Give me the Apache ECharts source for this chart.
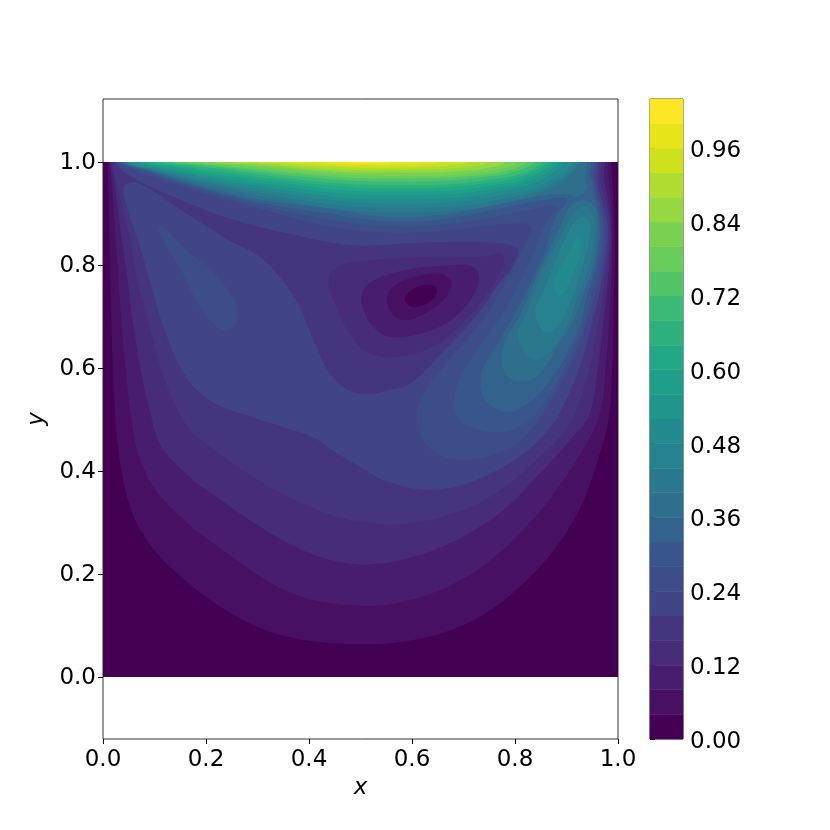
<!DOCTYPE html>
<html>
<head>
<meta charset="utf-8">
<title>cavity speed contours</title>
<style>
  html, body { margin: 0; padding: 0; background: #fff; }
  #chart { width: 830px; height: 830px; }
</style>
<script src="https://cdn.jsdelivr.net/npm/echarts@6/dist/echarts.min.js"></script>
</head>
<body>
<div id="chart"></div>
<script>
const yTicks = [0, 0.2, 0.4, 0.6, 0.8, 1]
const barTicks = [0, 0.12, 0.24, 0.36, 0.48, 0.6, 0.72, 0.84, 0.96]
const levels = [0, 0.04, 0.08, 0.12, 0.16, 0.2, 0.24, 0.28, 0.32, 0.36, 0.4, 0.44, 0.48, 0.52, 0.56, 0.6, 0.64, 0.68, 0.72, 0.76, 0.8, 0.84, 0.88, 0.92, 0.96, 1, 1.04]
const bandColors = ['#440154', '#471063', '#481d6f', '#472c7a', '#453581', '#414487', '#3d4d8a', '#39568c', '#33638d', '#2e6f8e', '#2a788e', '#26828e', '#238a8d', '#1f958b', '#1f9e89', '#22a884', '#2cb17e', '#3bbb75', '#52c569', '#68cd5b', '#7ad151', '#95d840', '#aedc30', '#cde11d', '#e7e419', '#fde725']

// square that holds the flow, lowest band
const cavity = [[0, 0], [1, 0], [1, 1], [0, 1]]

// contour lines, [x, y]
const c004 = [[0.009, 1], [0.012, 0.884], [0.016, 0.69], [0.025, 0.489], [0.033, 0.418], [0.043, 0.366], [0.056, 0.321], [0.075, 0.282], [0.114, 0.23], [0.179, 0.172], [0.243, 0.127], [0.308, 0.094], [0.373, 0.075], [0.438, 0.066], [0.509, 0.064], [0.554, 0.065], [0.619, 0.075], [0.683, 0.094], [0.748, 0.127], [0.813, 0.179], [0.878, 0.25], [0.929, 0.334], [0.962, 0.425], [0.983, 0.509], [0.989, 0.6], [0.992, 0.737], [0.994, 0.85], [0.99, 0.95], [0.987, 1]]
const c008 = [[0.013, 1], [0.018, 0.95], [0.024, 0.86], [0.031, 0.755], [0.042, 0.62], [0.054, 0.509], [0.065, 0.444], [0.082, 0.399], [0.104, 0.36], [0.14, 0.321], [0.192, 0.276], [0.256, 0.23], [0.321, 0.185], [0.386, 0.156], [0.451, 0.142], [0.509, 0.138], [0.554, 0.141], [0.619, 0.156], [0.683, 0.182], [0.748, 0.224], [0.813, 0.282], [0.878, 0.36], [0.929, 0.437], [0.964, 0.509], [0.976, 0.6], [0.985, 0.737], [0.989, 0.85], [0.986, 0.93], [0.981, 0.97], [0.981, 1]]
const c012 = [[0.016, 1], [0.024, 0.95], [0.035, 0.86], [0.05, 0.755], [0.058, 0.69], [0.075, 0.586], [0.093, 0.509], [0.103, 0.47], [0.12, 0.437], [0.179, 0.379], [0.224, 0.347], [0.289, 0.302], [0.354, 0.263], [0.418, 0.234], [0.47, 0.222], [0.522, 0.219], [0.586, 0.229], [0.651, 0.25], [0.716, 0.282], [0.781, 0.327], [0.845, 0.392], [0.904, 0.457], [0.944, 0.509], [0.961, 0.6], [0.977, 0.737], [0.984, 0.81], [0.986, 0.87], [0.98, 0.93], [0.974, 0.96], [0.973, 0.98], [0.975, 1]]
const c016 = [[0.019, 1], [0.029, 0.949], [0.052, 0.852], [0.07, 0.755], [0.088, 0.69], [0.117, 0.586], [0.15, 0.509], [0.179, 0.47], [0.231, 0.431], [0.295, 0.386], [0.36, 0.35], [0.425, 0.321], [0.477, 0.306], [0.509, 0.301], [0.57, 0.296], [0.683, 0.318], [0.768, 0.36], [0.845, 0.425], [0.891, 0.47], [0.915, 0.509], [0.945, 0.6], [0.96, 0.68], [0.97, 0.737], [0.98, 0.81], [0.984, 0.87], [0.975, 0.93], [0.967, 0.955], [0.966, 0.98], [0.969, 1]]
const c020 = [[0.023, 1], [0.049, 0.975], [0.114, 0.942], [0.243, 0.891], [0.373, 0.858], [0.489, 0.838], [0.638, 0.844], [0.774, 0.842], [0.805, 0.829], [0.793, 0.794], [0.772, 0.768], [0.72, 0.696], [0.66, 0.632], [0.6, 0.572], [0.554, 0.557], [0.509, 0.549], [0.47, 0.56], [0.438, 0.593], [0.418, 0.632], [0.399, 0.677], [0.373, 0.735], [0.308, 0.813], [0.243, 0.849], [0.146, 0.91], [0.069, 0.959], [0.043, 0.955], [0.041, 0.933], [0.069, 0.845], [0.095, 0.755], [0.114, 0.69], [0.159, 0.586], [0.211, 0.535], [0.276, 0.509], [0.347, 0.486], [0.405, 0.467], [0.451, 0.437], [0.509, 0.402], [0.554, 0.379], [0.632, 0.363], [0.716, 0.379], [0.813, 0.431], [0.865, 0.48], [0.885, 0.509], [0.925, 0.6], [0.945, 0.67], [0.962, 0.737], [0.975, 0.81], [0.98, 0.87], [0.97, 0.92], [0.962, 0.95], [0.96, 0.975], [0.963, 1]]
const c024 = [[0.027, 1], [0.082, 0.976], [0.179, 0.944], [0.308, 0.908], [0.438, 0.875], [0.55, 0.863], [0.651, 0.866], [0.813, 0.881], [0.832, 0.868], [0.813, 0.826], [0.781, 0.768], [0.748, 0.709], [0.709, 0.658], [0.664, 0.606], [0.625, 0.554], [0.609, 0.502], [0.638, 0.441], [0.703, 0.421], [0.781, 0.441], [0.826, 0.473], [0.852, 0.509], [0.895, 0.58], [0.93, 0.66], [0.954, 0.737], [0.97, 0.81], [0.975, 0.87], [0.965, 0.92], [0.958, 0.95], [0.955, 0.975], [0.959, 1]]
const c024Drop = [[0.108, 0.874], [0.117, 0.874], [0.166, 0.826], [0.218, 0.781], [0.253, 0.735], [0.263, 0.703], [0.253, 0.68], [0.234, 0.672], [0.205, 0.696], [0.179, 0.735], [0.146, 0.8], [0.111, 0.858]]
const c028 = [[0.031, 1], [0.08, 0.982], [0.179, 0.949], [0.308, 0.915], [0.438, 0.889], [0.55, 0.876], [0.651, 0.878], [0.78, 0.897], [0.813, 0.904], [0.881, 0.915], [0.858, 0.878], [0.836, 0.826], [0.794, 0.735], [0.738, 0.651], [0.696, 0.586], [0.682, 0.535], [0.69, 0.5], [0.713, 0.486], [0.761, 0.475], [0.813, 0.489], [0.839, 0.509], [0.875, 0.56], [0.91, 0.63], [0.932, 0.68], [0.947, 0.737], [0.965, 0.81], [0.97, 0.88], [0.96, 0.925], [0.955, 0.955], [0.951, 0.975], [0.954, 1]]
const c032 = [[0.035, 1], [0.085, 0.983], [0.179, 0.953], [0.308, 0.921], [0.438, 0.9], [0.55, 0.885], [0.65, 0.888], [0.78, 0.912], [0.85, 0.925], [0.901, 0.928], [0.878, 0.891], [0.858, 0.826], [0.816, 0.735], [0.768, 0.651], [0.738, 0.599], [0.734, 0.56], [0.748, 0.531], [0.787, 0.515], [0.82, 0.528], [0.86, 0.565], [0.9, 0.625], [0.925, 0.68], [0.939, 0.737], [0.96, 0.81], [0.965, 0.88], [0.955, 0.93], [0.95, 0.96], [0.945, 0.975], [0.948, 1]]
const c036 = [[0.039, 1], [0.09, 0.984], [0.18, 0.957], [0.308, 0.926], [0.438, 0.91], [0.55, 0.893], [0.65, 0.897], [0.78, 0.92], [0.86, 0.936], [0.905, 0.937], [0.923, 0.934], [0.939, 0.949], [0.936, 0.972], [0.94, 1]]
const c036Eddy = [[0.774, 0.612], [0.784, 0.586], [0.806, 0.573], [0.845, 0.586], [0.884, 0.645], [0.912, 0.69], [0.931, 0.74], [0.955, 0.81], [0.96, 0.87], [0.958, 0.905], [0.945, 0.922], [0.925, 0.925], [0.905, 0.912], [0.89, 0.878], [0.85, 0.794], [0.81, 0.703], [0.78, 0.65]]
const c040 = [[0.038, 1], [0.089, 0.985], [0.192, 0.958], [0.32, 0.931], [0.448, 0.909], [0.55, 0.902], [0.699, 0.907], [0.781, 0.922], [0.864, 0.946], [0.93, 1]]
const c040Eddy = [[0.806, 0.661], [0.832, 0.619], [0.865, 0.628], [0.9, 0.68], [0.923, 0.74], [0.947, 0.81], [0.955, 0.87], [0.95, 0.9], [0.935, 0.913], [0.915, 0.9], [0.885, 0.85], [0.85, 0.781], [0.826, 0.716]]
const c044 = [[0.043, 1], [0.094, 0.986], [0.195, 0.962], [0.322, 0.937], [0.449, 0.917], [0.55, 0.911], [0.698, 0.915], [0.779, 0.929], [0.86, 0.951], [0.925, 1]]
const c044Eddy = [[0.839, 0.709], [0.858, 0.67], [0.885, 0.684], [0.912, 0.74], [0.935, 0.81], [0.946, 0.86], [0.943, 0.885], [0.93, 0.893], [0.91, 0.875], [0.878, 0.806], [0.855, 0.748]]
const c048 = [[0.048, 1], [0.098, 0.987], [0.199, 0.965], [0.324, 0.943], [0.45, 0.925], [0.55, 0.919], [0.695, 0.923], [0.773, 0.935], [0.852, 0.955], [0.915, 1]]
const c048Eddy = [[0.876, 0.758], [0.884, 0.74], [0.894, 0.745], [0.913, 0.784], [0.928, 0.823], [0.929, 0.845], [0.92, 0.852], [0.904, 0.823], [0.884, 0.79], [0.876, 0.771]]
const c052 = [[0.056, 1], [0.105, 0.989], [0.204, 0.969], [0.328, 0.949], [0.451, 0.932], [0.55, 0.927], [0.69, 0.931], [0.765, 0.942], [0.84, 0.96], [0.9, 1]]
const c056 = [[0.067, 1], [0.115, 0.99], [0.212, 0.972], [0.333, 0.955], [0.453, 0.94], [0.55, 0.935], [0.686, 0.938], [0.758, 0.948], [0.83, 0.964], [0.888, 1]]
const c060 = [[0.08, 1], [0.127, 0.992], [0.221, 0.976], [0.339, 0.96], [0.456, 0.946], [0.55, 0.942], [0.683, 0.945], [0.752, 0.954], [0.821, 0.968], [0.876, 1]]
const c064 = [[0.095, 1], [0.141, 0.993], [0.232, 0.98], [0.345, 0.965], [0.459, 0.953], [0.55, 0.949], [0.68, 0.952], [0.746, 0.959], [0.812, 0.972], [0.865, 1]]
const c068 = [[0.115, 1], [0.159, 0.994], [0.246, 0.984], [0.354, 0.969], [0.463, 0.958], [0.55, 0.955], [0.676, 0.957], [0.74, 0.964], [0.804, 0.975], [0.855, 1]]
const c072 = [[0.135, 1], [0.177, 0.995], [0.26, 0.986], [0.363, 0.974], [0.467, 0.965], [0.55, 0.962], [0.672, 0.964], [0.732, 0.97], [0.792, 0.979], [0.84, 1]]
const c076 = [[0.16, 1], [0.199, 0.996], [0.277, 0.988], [0.375, 0.978], [0.472, 0.97], [0.55, 0.968], [0.668, 0.97], [0.724, 0.974], [0.78, 0.982], [0.825, 1]]
const c080 = [[0.185, 1], [0.222, 0.996], [0.295, 0.991], [0.386, 0.982], [0.477, 0.975], [0.55, 0.973], [0.662, 0.974], [0.713, 0.978], [0.764, 0.985], [0.805, 1]]
const c084 = [[0.215, 1], [0.248, 0.997], [0.313, 0.993], [0.394, 0.986], [0.475, 0.98], [0.54, 0.979], [0.654, 0.98], [0.699, 0.983], [0.744, 0.988], [0.78, 1]]
const c088 = [[0.25, 1], [0.277, 0.998], [0.331, 0.995], [0.399, 0.989], [0.466, 0.985], [0.52, 0.984], [0.624, 0.985], [0.669, 0.987], [0.714, 0.991], [0.75, 1]]
const c092 = [[0.3, 1], [0.321, 0.998], [0.363, 0.996], [0.416, 0.9925], [0.468, 0.99], [0.51, 0.989], [0.598, 0.9895], [0.638, 0.991], [0.678, 0.994], [0.71, 1]]
const c096 = [[0.37, 1], [0.384, 0.999], [0.412, 0.998], [0.447, 0.9955], [0.482, 0.994], [0.51, 0.9935], [0.566, 0.994], [0.596, 0.995], [0.626, 0.9965], [0.65, 1]]
const c100 = [[0.48, 1], [0.5, 0.998], [0.52, 0.997], [0.54, 0.998], [0.56, 1]]

// low speed eddy under the lid, nested dips
const dip016 = [[0.438, 0.774], [0.463, 0.8], [0.509, 0.808], [0.554, 0.812], [0.651, 0.816], [0.735, 0.816], [0.774, 0.823], [0.777, 0.8], [0.745, 0.742], [0.695, 0.684], [0.64, 0.641], [0.573, 0.622], [0.515, 0.629], [0.483, 0.661], [0.457, 0.709]]
const dip012 = [[0.502, 0.742], [0.522, 0.768], [0.586, 0.79], [0.671, 0.799], [0.716, 0.797], [0.73, 0.777], [0.716, 0.735], [0.671, 0.69], [0.606, 0.664], [0.554, 0.661], [0.522, 0.683], [0.505, 0.716]]
const dip008 = [[0.551, 0.735], [0.564, 0.758], [0.606, 0.777], [0.658, 0.782], [0.677, 0.764], [0.664, 0.735], [0.625, 0.706], [0.586, 0.693], [0.561, 0.706]]
const dip004 = [[0.586, 0.735], [0.599, 0.751], [0.625, 0.761], [0.645, 0.758], [0.648, 0.745], [0.635, 0.729], [0.609, 0.718], [0.593, 0.722]]

// lines that end on the lid get closed above it, the clip cuts that part off
function overLid(pts) {
  return [[pts[0][0], 1.02]].concat(pts, [[pts[pts.length - 1][0], 1.02]])
}

const layers = [
  { band: 0, pts: cavity, sharp: true },
  { band: 1, pts: overLid(c004) },
  { band: 2, pts: overLid(c008) },
  { band: 3, pts: overLid(c012) },
  { band: 4, pts: overLid(c016) },
  { band: 5, pts: overLid(c020) },
  { band: 6, pts: overLid(c024) },
  { band: 6, pts: c024Drop },
  { band: 7, pts: overLid(c028) },
  { band: 8, pts: overLid(c032) },
  { band: 9, pts: overLid(c036) },
  { band: 9, pts: c036Eddy },
  { band: 10, pts: overLid(c040) },
  { band: 10, pts: c040Eddy },
  { band: 11, pts: overLid(c044) },
  { band: 11, pts: c044Eddy },
  { band: 12, pts: overLid(c048) },
  { band: 12, pts: c048Eddy },
  { band: 13, pts: overLid(c052) },
  { band: 14, pts: overLid(c056) },
  { band: 15, pts: overLid(c060) },
  { band: 16, pts: overLid(c064) },
  { band: 17, pts: overLid(c068) },
  { band: 18, pts: overLid(c072) },
  { band: 19, pts: overLid(c076) },
  { band: 20, pts: overLid(c080) },
  { band: 21, pts: overLid(c084) },
  { band: 22, pts: overLid(c088) },
  { band: 23, pts: overLid(c092) },
  { band: 24, pts: overLid(c096) },
  { band: 25, pts: overLid(c100) },
  { band: 3, pts: dip016 },
  { band: 2, pts: dip012 },
  { band: 1, pts: dip008 },
  { band: 0, pts: dip004 }
]

const font = 'DejaVu Sans'
const tickSize = 23
const tickText = { fontFamily: font, fontSize: tickSize, color: '#000' }

const chart = echarts.init(document.getElementById('chart'), null, { renderer: 'canvas' })
chart.setOption({
  animation: false,
  backgroundColor: '#fff',
  grid: [
    { left: 103, top: 99, width: 515, height: 640, show: true, borderColor: '#000', borderWidth: 0.8, backgroundColor: 'transparent' },
    { left: 650, top: 99, width: 33, height: 640, show: true, borderColor: '#000', borderWidth: 0.8, backgroundColor: 'transparent' }
  ],
  xAxis: [
    {
      type: 'value',
      gridIndex: 0,
      min: 0,
      max: 1,
      interval: 0.2,
      name: 'x',
      nameLocation: 'middle',
      nameGap: 36,
      nameTextStyle: { fontFamily: font, fontStyle: 'italic', fontSize: tickSize, color: '#000', verticalAlign: 'middle' },
      splitLine: { show: false },
      axisLine: { show: false, onZero: false },
      axisTick: { show: true, length: 5, lineStyle: { color: '#000', width: 1 } },
      axisLabel: { show: true, margin: 10, fontFamily: font, fontSize: tickSize, color: '#000', formatter: v => v.toFixed(1) }
    },
    { type: 'value', gridIndex: 1, min: 0, max: 1, show: false }
  ],
  yAxis: [
    {
      type: 'value',
      gridIndex: 0,
      min: -0.1204,
      max: 1.1223,
      name: 'y',
      nameLocation: 'middle',
      nameRotate: 90,
      nameGap: 48,
      nameTextStyle: { fontFamily: font, fontStyle: 'italic', fontSize: tickSize, color: '#000', verticalAlign: 'middle' },
      splitLine: { show: false },
      axisLine: { show: false, onZero: false },
      axisTick: { show: true, length: 5, customValues: yTicks, lineStyle: { color: '#000', width: 1 } },
      axisLabel: {
        show: true,
        margin: 7,
        customValues: yTicks,
        formatter: v => `{t|${v.toFixed(1)}}`,
        rich: { t: { ...tickText, padding: [2, 0, 0, 0] } }
      }
    },
    {
      type: 'value',
      gridIndex: 1,
      position: 'right',
      min: 0,
      max: 1.04,
      splitLine: { show: false },
      axisLine: { show: false },
      axisTick: { show: true, length: 5, customValues: barTicks, lineStyle: { color: '#000', width: 1 } },
      axisLabel: {
        show: true,
        margin: 7,
        customValues: barTicks,
        formatter: v => `{t|${v.toFixed(2)}}`,
        rich: { t: { ...tickText, padding: [6, 0, 0, 0] } }
      }
    }
  ],
  series: [
    {
      type: 'custom',
      xAxisIndex: 0,
      yAxisIndex: 0,
      silent: true,
      clip: true,
      data: layers.map((l, i) => [i]),
      renderItem: (params, api) => {
        const layer = layers[params.dataIndex]
        const tl = api.coord([0, 1])
        const br = api.coord([1, 0])
        return {
          type: 'polygon',
          shape: { points: layer.pts.map(p => api.coord(p)), smooth: layer.sharp ? 0 : 0.38 },
          style: { fill: bandColors[layer.band] },
          clipPath: { type: 'rect', shape: { x: tl[0], y: tl[1], width: br[0] - tl[0], height: br[1] - tl[1] } }
        }
      }
    },
    {
      // colorbar, one block per band
      type: 'custom',
      xAxisIndex: 1,
      yAxisIndex: 1,
      silent: true,
      data: bandColors.map((c, i) => [levels[i], levels[i + 1]]),
      renderItem: (params, api) => {
        const low = api.coord([0, api.value(0)])
        const high = api.coord([1, api.value(1)])
        return {
          type: 'rect',
          shape: { x: low[0], y: high[1], width: high[0] - low[0], height: low[1] - high[1] },
          style: { fill: bandColors[params.dataIndex], stroke: bandColors[params.dataIndex], lineWidth: 0.5 }
        }
      }
    }
  ]
})
</script>
</body>
</html>
